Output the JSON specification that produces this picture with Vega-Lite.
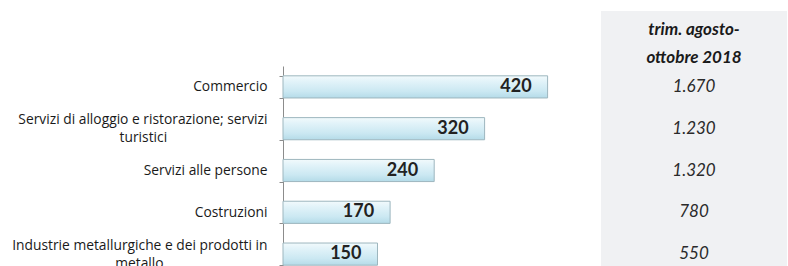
{
  "$schema": "https://vega.github.io/schema/vega-lite/v6.json",
  "padding": {"left": 0, "top": 4, "right": 0, "bottom": 0},
  "background": "white",
  "spacing": 3,
  "config": {
    "view": {"stroke": null}
  },
  "datasets": {
    "settori": [
      {"settore": "Commercio", "valore": 420, "trimestre": "1.670"},
      {"settore": "Servizi di alloggio e ristorazione; servizi turistici", "valore": 320, "trimestre": "1.230"},
      {"settore": "Servizi alle persone", "valore": 240, "trimestre": "1.320"},
      {"settore": "Costruzioni", "valore": 170, "trimestre": "780"},
      {"settore": "Industrie metallurgiche e dei prodotti in metallo", "valore": 150, "trimestre": "550"}
    ],
    "intestazione": [
      {"titolo": "trim. agosto-\nottobre 2018", "riga": "Commercio"}
    ]
  },
  "hconcat": [
    {
      "width": 315,
      "height": 264,
      "data": {"name": "settori"},
      "encoding": {
        "y": {
          "field": "settore",
          "type": "nominal",
          "sort": null,
          "scale": {"range": [55, 264], "paddingInner": 0.47, "paddingOuter": 0.235},
          "axis": {
            "title": null,
            "minExtent": 283,
            "maxExtent": 283,
            "tickBand": "extent",
            "domainColor": "#8c8c8c",
            "tickColor": "#8c8c8c",
            "tickSize": 4,
            "labelFont": "Open Sans",
            "labelFontSize": 13.8,
            "labelColor": "#1a1a1a",
            "labelLineHeight": 9,
            "labelOffset": -9,
            "labelLimit": 400,
            "labelPadding": 12,
            "labelExpr": "datum.value == 'Servizi di alloggio e ristorazione; servizi turistici' ? ['Servizi di alloggio e ristorazione; servizi', '\u200b\u00a0\u200b', pad('turistici', 37, '\u00a0') + '\u200b'] : datum.value == 'Industrie metallurgiche e dei prodotti in metallo' ? ['Industrie metallurgiche e dei prodotti in', '\u200b\u00a0\u200b', pad('metallo', 36, '\u00a0') + '\u200b'] : ['', datum.value]"
          }
        },
        "x": {"field": "valore", "type": "quantitative", "scale": {"domain": [0, 500]}, "axis": null}
      },
      "layer": [
        {
          "mark": {
            "type": "bar",
            "stroke": "#9db6be",
            "strokeWidth": 1,
            "color": {
              "gradient": "linear",
              "x1": 0, "y1": 0, "x2": 0, "y2": 1,
              "stops": [
                {"offset": 0, "color": "#f2fafc"},
                {"offset": 0.25, "color": "#e2f3f9"},
                {"offset": 0.7, "color": "#cbe8f2"},
                {"offset": 1, "color": "#b4dbe8"}
              ]
            }
          }
        },
        {
          "mark": {"type": "text", "align": "right", "dx": -16, "font": "Lato", "fontWeight": "bold", "fontSize": 18, "color": "#222222"},
          "encoding": {"text": {"field": "valore", "type": "quantitative"}}
        }
      ]
    },
    {
      "width": 186,
      "height": 264,
      "view": {"fill": "#f0f1f3", "stroke": null},
      "layer": [
        {
          "data": {"name": "settori"},
          "mark": {"type": "text", "font": "Lato", "fontStyle": "italic", "fontSize": 17, "color": "#2a2a2a"},
          "encoding": {
            "y": {"field": "settore", "type": "nominal", "sort": null, "scale": {"range": [55, 264], "paddingInner": 0.47, "paddingOuter": 0.235}, "axis": null},
            "text": {"field": "trimestre", "type": "nominal"}
          }
        },
        {
          "data": {"name": "intestazione"},
          "mark": {"type": "text", "font": "Lato", "fontStyle": "italic", "fontWeight": "bold", "fontSize": 17, "color": "#1a1a1a", "lineBreak": "\n", "lineHeight": 28, "baseline": "middle", "dy": -57},
          "encoding": {
            "y": {"field": "riga", "type": "nominal", "sort": null, "axis": null},
            "text": {"field": "titolo", "type": "nominal"}
          }
        }
      ]
    }
  ]
}
